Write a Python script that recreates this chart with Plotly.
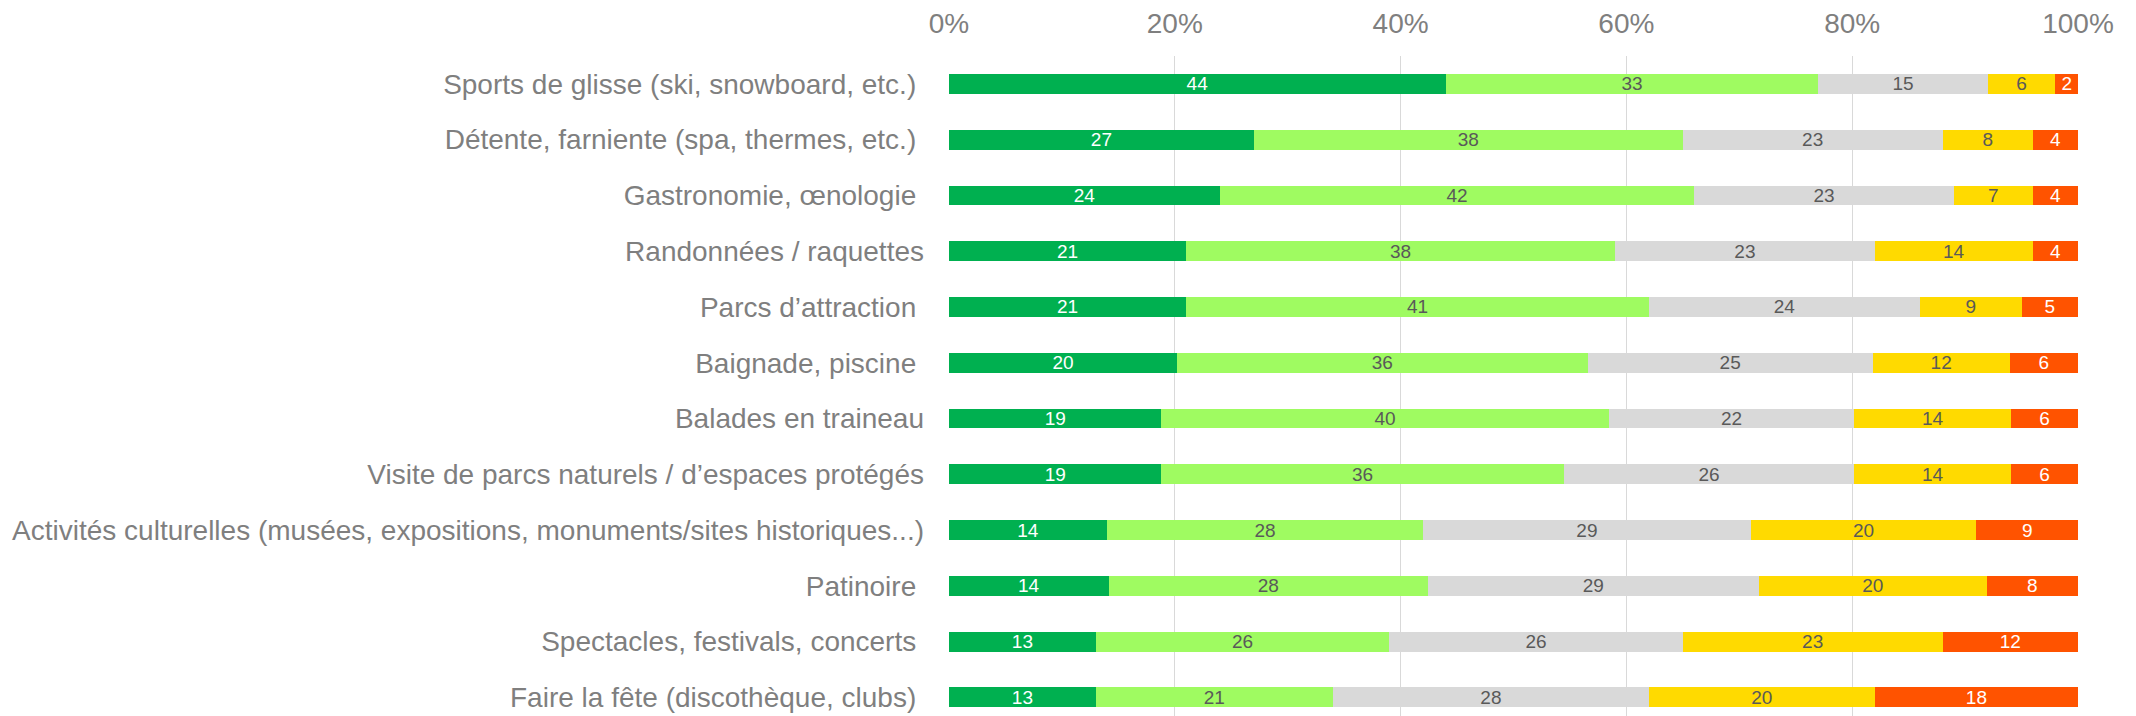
import plotly.graph_objects as go

# Activities, top to bottom
categories = [
    "Sports de glisse (ski, snowboard, etc.)\u00a0",
    "Détente, farniente (spa, thermes, etc.)\u00a0",
    "Gastronomie, œnologie\u00a0",
    "Randonnées / raquettes",
    "Parcs d’attraction\u00a0",
    "Baignade, piscine\u00a0",
    "Balades en traineau",
    "Visite de parcs naturels / d’espaces protégés",
    "Activités culturelles (musées, expositions, monuments/sites historiques...)",
    "Patinoire\u00a0",
    "Spectacles, festivals, concerts\u00a0",
    "Faire la fête (discothèque, clubs)\u00a0",
]

# Answer shares (%) per activity, one list per answer level
level_1 = [44, 27, 24, 21, 21, 20, 19, 19, 14, 14, 13, 13]
level_2 = [33, 38, 42, 38, 41, 36, 40, 36, 28, 28, 26, 21]
level_3 = [15, 23, 23, 23, 24, 25, 22, 26, 29, 29, 26, 28]
level_4 = [6, 8, 7, 14, 9, 12, 14, 14, 20, 20, 23, 20]
level_5 = [2, 4, 4, 4, 5, 6, 6, 6, 9, 8, 12, 18]

x_ticks = [0, 20, 40, 60, 80, 100]
x_tick_labels = ["0%", "20%", "40%", "60%", "80%", "100%"]

series = [
    (level_1, "#00B050", "#FFFFFF"),
    (level_2, "#9FFB61", "#595959"),
    (level_3, "#D9D9D9", "#595959"),
    (level_4, "#FFDA00", "#595959"),
    (level_5, "#FF5300", "#FFFFFF"),
]

fig = go.Figure()
for values, color, text_color in series:
    fig.add_trace(go.Bar(
        y=categories,
        x=values,
        orientation="h",
        marker=dict(color=color, line=dict(width=0)),
        text=[str(v) for v in values],
        texttemplate="%{text}",
        textposition="inside",
        insidetextanchor="middle",
        textangle=0,
        insidetextfont=dict(family="Liberation Sans, Arial", size=19, color=text_color),
        constraintext="none",
        cliponaxis=False,
        showlegend=False,
    ))

fig.update_layout(
    barmode="stack",
    barnorm="percent",
    bargap=0.645,
    width=2136,
    height=716,
    margin=dict(l=949, r=58, t=56, b=0),
    paper_bgcolor="white",
    plot_bgcolor="white",
    font=dict(family="Liberation Sans, Arial", color="#7F7F7F", size=28),
)
fig.update_xaxes(
    side="top",
    range=[0, 100.001],
    tickvals=x_ticks,
    ticktext=x_tick_labels,
    tickfont=dict(size=28, color="#7F7F7F"),
    showgrid=True,
    gridcolor="#D9D9D9",
    gridwidth=1,
    zeroline=False,
    showline=False,
    ticks="",
    ticklabelstandoff=16,
    fixedrange=True,
)
fig.update_yaxes(
    categoryorder="array",
    categoryarray=categories,
    range=[11.334, -0.5],
    tickfont=dict(size=28, color="#7F7F7F"),
    showgrid=False,
    zeroline=False,
    showline=False,
    ticks="",
    ticklabelstandoff=24,
    fixedrange=True,
)

fig.write_html("out.html")
